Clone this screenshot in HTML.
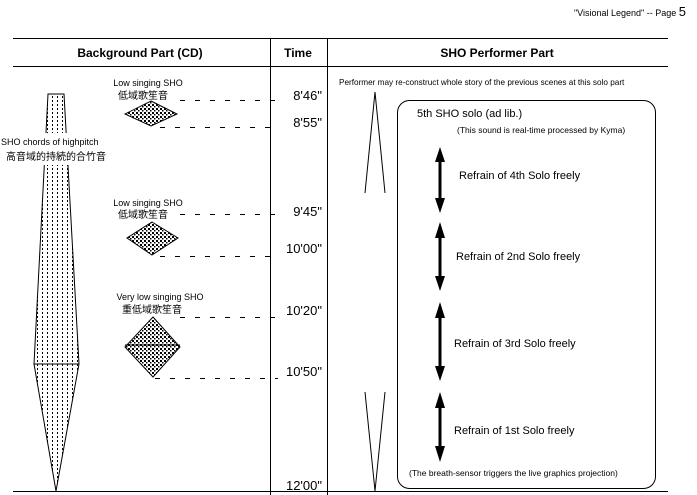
<!DOCTYPE html>
<html><head><meta charset="utf-8"><style>
body{margin:0;background:#fff;}
svg{display:block;font-family:"Liberation Sans","Noto Sans CJK JP",sans-serif;}
</style></head><body>
<svg width="697" height="495" viewBox="0 0 697 495" xmlns="http://www.w3.org/2000/svg">
<defs>
<pattern id="dots" width="4" height="4" patternUnits="userSpaceOnUse"><rect x="0" y="0" width="2" height="2" fill="#000"/><rect x="2" y="2" width="1.5" height="1.5" fill="#000"/></pattern>
<pattern id="vdots" width="5" height="4" patternUnits="userSpaceOnUse"><rect x="2" y="0" width="1" height="2" fill="#000"/></pattern>
</defs>
<text x="686" y="16" font-size="9" text-anchor="end">"Visional Legend"  -- Page <tspan font-size="13">5</tspan></text>
<g stroke="#000" stroke-width="1">
<line x1="13" y1="38.5" x2="668" y2="38.5"/>
<line x1="13" y1="66.5" x2="668" y2="66.5"/>
<line x1="13" y1="491.5" x2="668" y2="491.5"/>
<line x1="270.5" y1="38" x2="270.5" y2="495"/>
<line x1="327.5" y1="38" x2="327.5" y2="495"/>
</g>
<g font-size="12" font-weight="bold" text-anchor="middle">
<text x="140" y="57">Background Part (CD)</text>
<text x="298" y="57">Time</text>
<text x="497" y="57">SHO Performer Part</text>
</g>
<!-- tall shape -->
<path d="M48 94 L64 94 L79 364 L56 491 L34 364 Z" fill="url(#vdots)" stroke="#000"/>
<line x1="34" y1="364" x2="79" y2="364" stroke="#000"/>
<rect x="0" y="133" width="108" height="32" fill="#fff"/>
<text x="1" y="145" font-size="9">SHO chords of highpitch</text>
<text x="6" y="160" font-size="10">高音域的持続的合竹音</text>
<!-- diamonds -->
<path d="M151 101 L177 114 L151 126 L125 114 Z" fill="url(#dots)" stroke="#000"/>
<path d="M152 222 L178 238 L152 255 L127 238 Z" fill="url(#dots)" stroke="#000"/>
<path d="M153 317 L180 347 L153 377 L125 347 Z" fill="url(#dots)" stroke="#000"/>
<line x1="125" y1="345" x2="180" y2="345" stroke="#000"/>
<g font-size="9" text-anchor="middle">
<text x="148" y="86">Low singing SHO</text>
<text x="143" y="99" font-size="10">低域歌笙音</text>
<text x="148" y="206">Low singing SHO</text>
<text x="143" y="218" font-size="10">低域歌笙音</text>
<text x="160" y="300">Very low singing SHO</text>
<text x="152" y="313" font-size="10">重低域歌笙音</text>
</g>
<g stroke="#000" stroke-dasharray="5,10">
<line x1="180" y1="100.5" x2="278" y2="100.5"/>
<line x1="160" y1="127.5" x2="278" y2="127.5"/>
<line x1="180" y1="214.5" x2="278" y2="214.5"/>
<line x1="160" y1="256.5" x2="278" y2="256.5"/>
<line x1="180" y1="317.5" x2="278" y2="317.5"/>
<line x1="155" y1="378.5" x2="278" y2="378.5"/>
</g>
<g font-size="13" text-anchor="end">
<text x="322" y="100">8'46"</text>
<text x="322" y="127">8'55"</text>
<text x="322" y="216">9'45"</text>
<text x="322" y="253">10'00"</text>
<text x="322" y="315">10'20"</text>
<text x="322" y="376">10'50"</text>
<text x="322" y="490">12'00"</text>
</g>
<text x="339" y="85" font-size="8.2">Performer may re-construct whole story of the previous scenes at this solo part</text>
<g stroke="#000" fill="none">
<path d="M365 193 L375 92 L385 193"/>
<path d="M365 392 L375 491 L385 392"/>
<rect x="397.5" y="100.5" width="258" height="388" rx="12"/>
</g>
<text x="417" y="117" font-size="11">5th SHO solo (ad lib.)</text>
<text x="457" y="133" font-size="8.5">(This sound is real-time processed by Kyma)</text>
<text x="409" y="476" font-size="8.5">(The breath-sensor triggers the live graphics projection)</text>
<g stroke="#000" stroke-width="3">
<line x1="440" y1="156" x2="440" y2="204"/>
<line x1="440" y1="232" x2="440" y2="282"/>
<line x1="440" y1="312" x2="440" y2="372"/>
<line x1="440" y1="402" x2="440" y2="452"/>
</g>
<g fill="#000">
<path d="M440 147 L445 162 L435 162 Z"/><path d="M440 213 L445 198 L435 198 Z"/>
<path d="M440 222 L445 238 L435 238 Z"/><path d="M440 291 L445 276 L435 276 Z"/>
<path d="M440 302 L445 318 L435 318 Z"/><path d="M440 381 L445 366 L435 366 Z"/>
<path d="M440 392 L445 408 L435 408 Z"/><path d="M440 462 L445 446 L435 446 Z"/>
</g>
<g font-size="11">
<text x="459" y="179">Refrain of 4th Solo freely</text>
<text x="456" y="260">Refrain of 2nd Solo freely</text>
<text x="454" y="347">Refrain of 3rd Solo freely</text>
<text x="454" y="434">Refrain of 1st Solo freely</text>
</g>
</svg>
</body></html>
